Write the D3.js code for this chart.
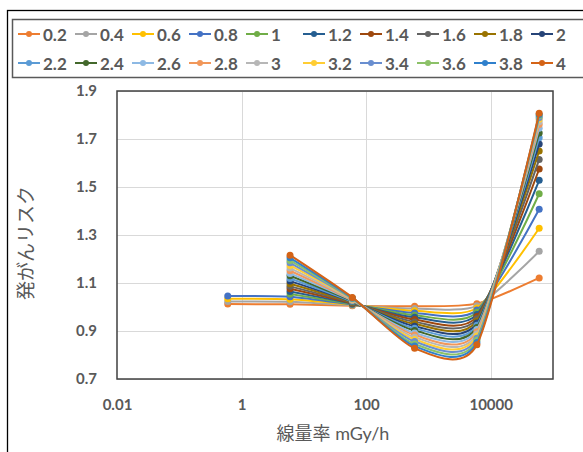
<!DOCTYPE html>
<html><head><meta charset="utf-8">
<script src="https://cdn.jsdelivr.net/npm/d3@7"></script>
<style>body{margin:0;background:#fff} svg{display:block}</style>
</head><body>
<svg id="c" width="583" height="452"></svg>
<script>
// ---- data ----
const seriesLabels = ["0.2","0.4","0.6","0.8","1","1.2","1.4","1.6","1.8","2",
                      "2.2","2.4","2.6","2.8","3","3.2","3.4","3.6","3.8","4"];
const seriesColors = ["#ED7D31","#A5A5A5","#FFC000","#4472C4","#70AD47","#255E91","#9E480E","#636363","#997300","#264478",
                      "#5B9BD5","#43682B","#8DB9E4","#F1975A","#B7B7B7","#FFCD33","#698ED0","#8CC168","#2F80CC","#D46316"];
const rates = [0.6, 6, 60, 600, 6000, 60000];
const riskAt0_6 = [1.012,1.023,1.034,1.046,null,null,null,null,null,null,null,null,null,null,null,null,null,null,null,null];
const riskAt6    = [1.011,1.022,1.032,1.043,1.054,1.065,1.076,1.086,1.097,1.108,1.119,1.130,1.140,1.151,1.162,1.173,1.184,1.194,1.205,1.216];
const riskAt60   = [1.005,1.007,1.009,1.010,1.012,1.014,1.016,1.018,1.020,1.022,1.023,1.025,1.027,1.029,1.031,1.033,1.035,1.036,1.038,1.040];
const riskAt600  = [1.003,0.994,0.984,0.975,0.966,0.957,0.948,0.938,0.929,0.920,0.911,0.902,0.892,0.883,0.874,0.865,0.856,0.846,0.837,0.828];
const riskAt6000 = [1.014,1.005,0.996,0.987,0.978,0.969,0.960,0.951,0.942,0.933,0.924,0.915,0.906,0.897,0.888,0.879,0.870,0.861,0.852,0.843];
const riskAt60000= [1.121,1.232,1.328,1.407,1.472,1.528,1.575,1.615,1.650,1.679,1.705,1.725,1.745,1.760,1.772,1.782,1.790,1.797,1.802,1.807];
const xTicks = [0.01, 1, 100, 10000];
const yTicks = [0.7, 0.9, 1.1, 1.3, 1.5, 1.7, 1.9];
const xTitle = "線量率 mGy/h";
const yTitle = "発がんリスク";

// ---- build ----
const riskByRate = [riskAt0_6, riskAt6, riskAt60, riskAt600, riskAt6000, riskAt60000];
const series = seriesLabels.map((lab, i) => ({
  label: lab, color: seriesColors[i],
  pts: rates.map((r, j) => ({x: r, v: riskByRate[j][i]})).filter(p => p.v != null)
}));

const svg = d3.select("#c");
const FONT = "Lato, 'Noto Sans CJK JP', sans-serif";
const TXT = "#595959";

// outer chart border (only left/top visible)
svg.append("rect").attr("x",7.5).attr("y",10.5).attr("width",900).attr("height",900)
  .attr("fill","#fff").attr("stroke","#000").attr("stroke-width",1.3);

const x = d3.scaleLog().domain([0.01, 100000]).range([117, 553]);
const y = d3.scaleLinear().domain([0.7, 1.9]).range([379, 91]);

// gridlines
svg.append("g").selectAll("line").data(yTicks).join("line")
  .attr("x1",x.range()[0]).attr("x2",x.range()[1])
  .attr("y1",d=>Math.round(y(d))+0.5).attr("y2",d=>Math.round(y(d))+0.5)
  .attr("stroke","#D9D9D9").attr("stroke-width",1);
svg.append("g").selectAll("line").data(xTicks.slice(1)).join("line")
  .attr("x1",d=>Math.round(x(d))+0.5).attr("x2",d=>Math.round(x(d))+0.5)
  .attr("y1",y.range()[0]).attr("y2",y.range()[1])
  .attr("stroke","#D9D9D9").attr("stroke-width",1);

// plot border
svg.append("rect").attr("x",x.range()[0]).attr("y",y.range()[1])
  .attr("width",x.range()[1]-x.range()[0]).attr("height",y.range()[0]-y.range()[1])
  .attr("fill","none").attr("stroke","#404040").attr("stroke-width",1.5);

// axes
const yAxis = svg.append("g").attr("transform",`translate(${x.range()[0]},0)`)
  .call(d3.axisLeft(y).tickValues(yTicks).tickFormat(d3.format(".1f")).tickSize(0).tickPadding(20));
const xAxis = svg.append("g").attr("transform",`translate(0,${y.range()[0]})`)
  .call(d3.axisBottom(x).tickValues(xTicks).tickFormat(d => String(d)).tickSize(0).tickPadding(20));
[yAxis, xAxis].forEach(g => {
  g.select(".domain").remove();
  g.selectAll("text").attr("font-family",FONT).attr("font-size",15).attr("font-weight","bold").attr("fill",TXT);
});

// titles
svg.append("text").attr("x",(x.range()[0]+x.range()[1])/2 - 2).attr("y",433)
  .attr("text-anchor","middle").attr("dominant-baseline","central")
  .attr("font-family",FONT).attr("font-size",18).attr("fill",TXT).text(xTitle);
svg.append("text").attr("transform","translate(25,243) rotate(-90)")
  .attr("text-anchor","middle").attr("dominant-baseline","central")
  .attr("font-family",FONT).attr("font-size",19).attr("fill",TXT).text(yTitle);

// series
const line = d3.line().x(d => x(d.x)).y(d => y(d.v)).curve(d3.curveCardinal.tension(0.3));
const sg = svg.append("g").selectAll("g").data(series).join("g");
sg.append("path").attr("d", d => line(d.pts)).attr("fill","none")
  .attr("stroke", d => d.color).attr("stroke-width",2).attr("stroke-linejoin","round");
sg.selectAll("circle").data(d => d.pts.map(p => ({...p, c: d.color}))).join("circle")
  .attr("cx", p => x(p.x)).attr("cy", p => y(p.v)).attr("r",3.5).attr("fill", p => p.c);

// legend
svg.append("rect").attr("x",12.5).attr("y",19.5).attr("width",700).attr("height",58)
  .attr("fill","#fff").attr("stroke","#595959").attr("stroke-width",1.5);
const lg = svg.append("g").selectAll("g").data(series).join("g")
  .attr("transform",(d,i) => `translate(${18 + (i%10)*57},${34 + Math.floor(i/10)*29})`);
lg.append("line").attr("x1",0).attr("x2",22).attr("stroke",d=>d.color).attr("stroke-width",2);
lg.append("circle").attr("cx",11).attr("r",3).attr("fill",d=>d.color);
lg.append("text").attr("x",25).attr("dominant-baseline","central")
  .attr("font-family",FONT).attr("font-size",17).attr("font-weight","bold").attr("fill",TXT)
  .text(d=>d.label);
</script>
</body></html>
